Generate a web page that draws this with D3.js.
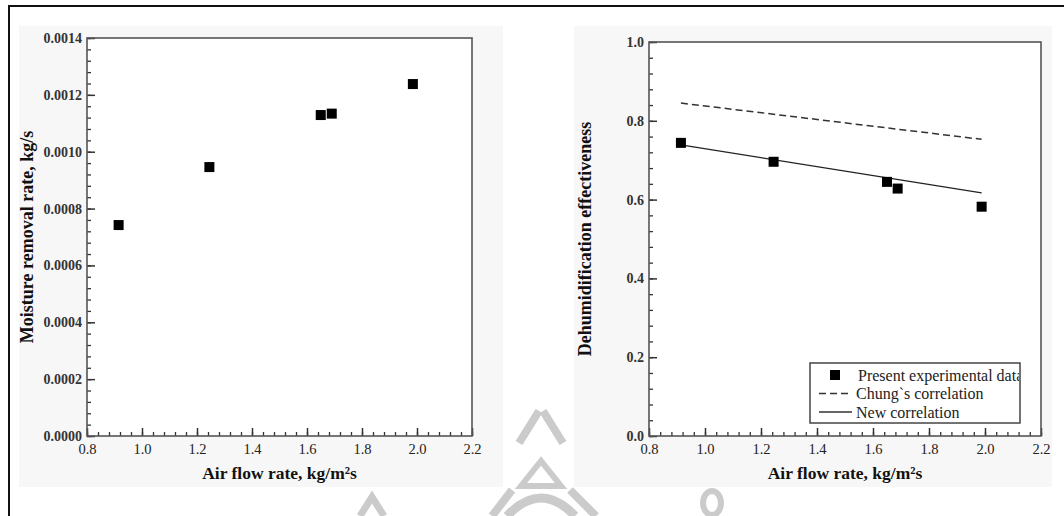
<!DOCTYPE html>
<html>
<head>
<meta charset="utf-8">
<script src="https://cdn.jsdelivr.net/npm/d3@7"></script>
<style>
  html, body { margin: 0; padding: 0; background: #fff; }
  svg { display: block; }
  text { font-family: "Liberation Serif", "Times New Roman", serif; }
</style>
</head>
<body>
<svg id="chart" width="1064" height="516"></svg>
<script>
// ---- Data ----
const airFlowLeft = [0.915, 1.245, 1.65, 1.69, 1.985];
const moistureRemoval = [0.000742, 0.000946, 0.001129, 0.001134, 0.001238];

const airFlowRight = [0.914, 1.245, 1.65, 1.688, 1.988];
const effectiveness = [0.744, 0.696, 0.645, 0.628, 0.582];

const chungX = [0.914, 1.988];
const chungY = [0.845, 0.753];
const newCorrX = [0.914, 1.988];
const newCorrY = [0.739, 0.617];

const xTicks = [0.8, 1.0, 1.2, 1.4, 1.6, 1.8, 2.0, 2.2];
const yTicksLeft = [0, 0.0002, 0.0004, 0.0006, 0.0008, 0.0010, 0.0012, 0.0014];
const yTicksRight = [0, 0.2, 0.4, 0.6, 0.8, 1.0];
const legendLabels = ["Present experimental data", "Chung`s correlation", "New correlation"];
const xTitle = "Air flow rate, kg/m\u00B2s";
const yTitleLeft = "Moisture removal rate, kg/s";
const yTitleRight = "Dehumidification effectiveness";

// ---- Drawing ----
const svg = d3.select("#chart");

// panels (faint background of the scanned figures)
svg.append("rect").attr("x", 19).attr("y", 26).attr("width", 484).attr("height", 461).attr("fill", "#f8f7f7");
svg.append("rect").attr("x", 574).attr("y", 26).attr("width", 478).attr("height", 461).attr("fill", "#f8f7f7");

// outer border
svg.append("rect").attr("x", 9).attr("y", 6).attr("width", 1070).attr("height", 520)
  .attr("fill", "none").attr("stroke", "#111").attr("stroke-width", 2);

// watermark (light grey logo fragments)
const wm = svg.append("g").attr("fill", "none").attr("stroke", "#cbcbcb").attr("stroke-width", 8);
wm.append("path").attr("d", "M519,443 L539,411 M543,411 L563,443");
wm.append("path").attr("d", "M521,486 L541,461 L561,486 Z").attr("stroke-width", 6);
wm.append("path").attr("d", "M507,516 Q541,480 575,516").attr("stroke-width", 9);
wm.append("path").attr("d", "M492,516 L512,490");
wm.append("path").attr("d", "M570,490 L596,516");
wm.append("path").attr("d", "M360,516 L372,497 L384,516").attr("stroke-width", 7);
wm.append("ellipse").attr("cx", 712).attr("cy", 503).attr("rx", 9).attr("ry", 12).attr("stroke-width", 6);

function drawPanel(opts) {
  const { left, right, top, bottom, yDomain, yTicks, yFmt, yMinorStep, yTitle, yTitleX } = opts;
  const g = svg.append("g");
  const x = d3.scaleLinear().domain([0.8, 2.2]).range([left, right]);
  const y = d3.scaleLinear().domain(yDomain).range([bottom, top]);

  g.append("rect").attr("x", left).attr("y", top).attr("width", right - left).attr("height", bottom - top)
    .attr("fill", "#fff");

  // minor x ticks
  const xMinor = d3.range(0, 36).map(i => 0.8 + i * 0.04).filter(v => v < 2.2 + 1e-9);
  g.append("g").attr("transform", `translate(0,${bottom})`)
    .call(d3.axisBottom(x).tickValues(xMinor).tickSize(-4).tickFormat(""))
    .call(s => s.select(".domain").remove())
    .selectAll("line").attr("stroke", "#333").attr("stroke-width", 1.3);
  // major x ticks
  const xa = g.append("g").attr("transform", `translate(0,${bottom})`)
    .call(d3.axisBottom(x).tickValues(xTicks).tickSize(-8).tickPadding(8).tickFormat(d3.format(".1f")));
  xa.select(".domain").remove();
  xa.selectAll("line").attr("stroke", "#333").attr("stroke-width", 1.5);
  xa.selectAll("text").attr("font-size", 14.5).attr("fill", "#222")
    .style("font-family", "'Liberation Serif', serif");

  // minor y ticks
  const nMinor = Math.round((yDomain[1] - yDomain[0]) / yMinorStep);
  const yMinor = d3.range(0, nMinor + 1).map(i => yDomain[0] + i * yMinorStep);
  g.append("g").attr("transform", `translate(${left},0)`)
    .call(d3.axisLeft(y).tickValues(yMinor).tickSize(-4).tickFormat(""))
    .call(s => s.select(".domain").remove())
    .selectAll("line").attr("stroke", "#333").attr("stroke-width", 1.3);
  const ya = g.append("g").attr("transform", `translate(${left},0)`)
    .call(d3.axisLeft(y).tickValues(yTicks).tickSize(-8).tickPadding(5).tickFormat(yFmt));
  ya.select(".domain").remove();
  ya.selectAll("line").attr("stroke", "#333").attr("stroke-width", 1.5);
  ya.selectAll("text").attr("font-size", 14).attr("font-weight", "bold").attr("fill", "#333")
    .style("font-family", "'Liberation Serif', serif");

  // frame
  g.append("rect").attr("x", left).attr("y", top).attr("width", right - left).attr("height", bottom - top)
    .attr("fill", "none").attr("stroke", "#555").attr("stroke-width", 1.6);

  // titles
  g.append("text").attr("x", (left + right) / 2).attr("y", bottom + 43)
    .attr("text-anchor", "middle").attr("font-size", 17.5).attr("font-weight", "bold").attr("fill", "#111")
    .text(xTitle);
  g.append("text").attr("transform", `translate(${yTitleX},${(top + bottom) / 2}) rotate(-90)`)
    .attr("text-anchor", "middle").attr("dy", "0.35em").attr("font-size", 18).attr("font-weight", "bold").attr("fill", "#111")
    .text(yTitle);

  return { g, x, y };
}

const ms = 10; // marker size

// Left panel
const L = drawPanel({
  left: 87, right: 472, top: 38, bottom: 436,
  yDomain: [0, 0.0014], yTicks: yTicksLeft, yFmt: d3.format(".4f"), yMinorStep: 0.00004,
  yTitle: yTitleLeft, yTitleX: 27
});
L.g.selectAll("rect.pt").data(airFlowLeft).join("rect").attr("class", "pt")
  .attr("x", (d) => L.x(d) - ms / 2).attr("y", (d, i) => L.y(moistureRemoval[i]) - ms / 2)
  .attr("width", ms).attr("height", ms).attr("fill", "#000");

// Right panel
const R = drawPanel({
  left: 649, right: 1041, top: 42, bottom: 436,
  yDomain: [0, 1.0], yTicks: yTicksRight, yFmt: d3.format(".1f"), yMinorStep: 0.04,
  yTitle: yTitleRight, yTitleX: 585
});
const line = d3.line();
R.g.append("path")
  .attr("d", line(chungX.map((v, i) => [R.x(v), R.y(chungY[i])])))
  .attr("fill", "none").attr("stroke", "#333").attr("stroke-width", 1.5).attr("stroke-dasharray", "7,4");
R.g.append("path")
  .attr("d", line(newCorrX.map((v, i) => [R.x(v), R.y(newCorrY[i])])))
  .attr("fill", "none").attr("stroke", "#222").attr("stroke-width", 1.3);
R.g.selectAll("rect.pt").data(airFlowRight).join("rect").attr("class", "pt")
  .attr("x", (d) => R.x(d) - ms / 2).attr("y", (d, i) => R.y(effectiveness[i]) - ms / 2)
  .attr("width", ms).attr("height", ms).attr("fill", "#000");

// Legend
const lg = { x: 810, y: 363, w: 210, h: 60 };
svg.append("defs").append("clipPath").attr("id", "legClip")
  .append("rect").attr("x", lg.x).attr("y", lg.y).attr("width", lg.w - 1).attr("height", lg.h);
const legend = svg.append("g");
legend.append("rect").attr("x", lg.x).attr("y", lg.y).attr("width", lg.w).attr("height", lg.h)
  .attr("fill", "#fff").attr("stroke", "#444").attr("stroke-width", 1.5);
const rowY = [375, 393.5, 412];
legend.append("rect").attr("x", 835 - 5).attr("y", rowY[0] - 5).attr("width", 10).attr("height", 10).attr("fill", "#000");
legend.append("line").attr("x1", 819).attr("x2", 852).attr("y1", rowY[1]).attr("y2", rowY[1])
  .attr("stroke", "#333").attr("stroke-width", 1.5).attr("stroke-dasharray", "7,4");
legend.append("line").attr("x1", 819).attr("x2", 852).attr("y1", rowY[2]).attr("y2", rowY[2])
  .attr("stroke", "#333").attr("stroke-width", 1.3);
legend.append("g").attr("clip-path", "url(#legClip)")
  .selectAll("text").data(legendLabels).join("text")
  .attr("x", (d, i) => i === 0 ? 858 : 856).attr("y", (d, i) => rowY[i]).attr("dy", "0.35em")
  .attr("font-size", 16).attr("fill", "#222").text(d => d);
</script>
</body>
</html>
